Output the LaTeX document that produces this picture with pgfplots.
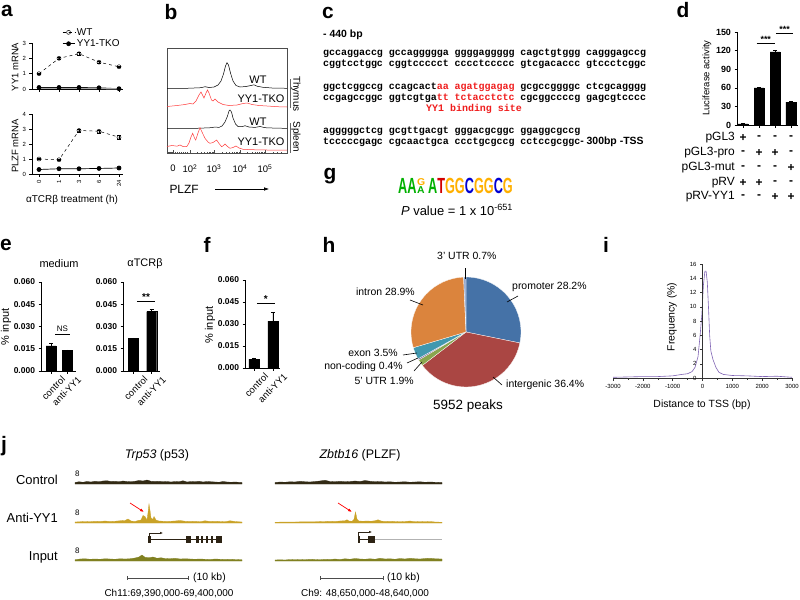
\documentclass[border=0pt]{standalone}
\usepackage{pgfplots}
\pgfplotsset{compat=1.18}
\usepackage{fontspec}
\setmainfont{Liberation Sans}
\newfontfamily\seqfont{Liberation Mono}
\usetikzlibrary{arrows.meta}
\newcommand{\fs}[1]{\fontsize{#1}{#1}\selectfont}
\definecolor{seqred}{RGB}{240,30,30}
\definecolor{histred}{RGB}{255,60,60}
\definecolor{cProm}{HTML}{4572A7}
\definecolor{cInter}{HTML}{AA4643}
\definecolor{cFive}{HTML}{89A54E}
\definecolor{cNC}{HTML}{71588F}
\definecolor{cExon}{HTML}{4198AF}
\definecolor{cIntron}{HTML}{DB843D}
\definecolor{cThree}{HTML}{93A9CF}
\definecolor{lgA}{RGB}{0,176,0}
\definecolor{lgT}{RGB}{210,0,0}
\definecolor{lgG}{RGB}{255,176,0}
\definecolor{lgC}{RGB}{0,0,210}
\definecolor{tssPurple}{RGB}{128,100,180}
\definecolor{trCtrl}{RGB}{50,42,20}
\definecolor{trAnti}{RGB}{201,162,39}
\definecolor{trInput}{RGB}{128,128,32}
\definecolor{gene}{RGB}{45,35,20}
\pgfplotsset{
  /pgf/number format/assume math mode=true,
  prism/.style={scale only axis, anchor=south west, axis x line*=bottom, axis y line*=left,
    tick align=outside, major tick length=2.5bp, tick style={black, line width=0.6pt},
    axis line style={line width=0.7pt}, clip=false},
  efax/.style={prism, ymin=0, ymax=0.06, ytick={0,0.015,0.03,0.045,0.06},
    scaled y ticks=false, yticklabel style={font=\bfseries\fs{8.5}, /pgf/number format/.cd, fixed, fixed zerofill, precision=3},
    xtick={0,1}, xticklabels={control,anti-YY1},
    xticklabel style={xshift=15bp, yshift=-2bp, rotate=45, anchor=east, font=\fs{9.5}},
    ybar, bar width=10bp},
}
\begin{document}
\begin{tikzpicture}
\useasboundingbox (0,0) rectangle (800bp,-600bp);
\fill[white] (0,0) rectangle (800bp,-600bp);

% ================= panel a =================
\begin{axis}[prism, at={(32bp,-89bp)}, width=91bp, height=46bp,
  xmin=-0.35, xmax=4.2, ymin=0, ymax=3, xtick={0,1,2,3,4}, xticklabels={},
  ytick={0,1,2,3}, yticklabel style={font=\fs{6}},
  legend style={at={(axis description cs:0.33,1.37)}, anchor=north west, draw=none, fill=none,
    font=\fs{10}, inner sep=0pt, row sep=-1bp, cells={anchor=west}},
  legend image code/.code={\draw[mark repeat=2,mark phase=2,#1] plot coordinates {(0bp,0bp) (6bp,0bp) (12bp,0bp)};}]
\addplot[black, dashed, line width=0.5pt, mark=o, mark size=2bp, mark options={solid, fill=white},
  error bars/.cd, y dir=both, y explicit, error bar style={solid, black}]
  coordinates {(0,1.0) +- (0,0.04) (1,2.0) +- (0,0.08) (2,2.3) +- (0,0.07) (3,1.75) +- (0,0.05) (4,1.45) +- (0,0.04)};
\addlegendentry{WT}
\addplot[black, solid, line width=0.7pt, mark=*, mark size=2bp]
  coordinates {(0,0.1) (1,0.1) (2,0.1) (3,0.08) (4,0.02)};
\addlegendentry{YY1-TKO}
\addplot[gray!70, line width=1.2pt, forget plot] coordinates {(0,0.04) (1,0.04) (2,0.04) (3,0.03) (4,0.01)};
\end{axis}

\begin{axis}[prism, at={(32bp,-174bp)}, width=91bp, height=60bp,
  xmin=-0.35, xmax=4.2, ymin=0, ymax=4, xtick={0,1,2,3,4}, xticklabels={0,1,3,6,24},
  xticklabel style={rotate=90, anchor=east, font=\fs{6}},
  ytick={0,1,2,3,4}, yticklabel style={font=\fs{6}}]
\addplot[black, dashed, line width=0.5pt, mark=o, mark size=2bp, mark options={solid, fill=white},
  error bars/.cd, y dir=both, y explicit, error bar style={solid, black}]
  coordinates {(0,1.0) +- (0,0.04) (1,0.95) +- (0,0.04) (2,2.9) +- (0,0.12) (3,2.85) +- (0,0.1) (4,2.45) +- (0,0.15)};
\addplot[black, solid, line width=0.7pt, mark=*, mark size=2bp]
  coordinates {(0,0.3) (1,0.35) (2,0.35) (3,0.37) (4,0.4)};
\end{axis}

% ================= panel b =================
\begin{axis}[scale only axis, anchor=south west, at={(167bp,-153bp)}, width=120bp, height=105bp,
  xmin=0, xmax=120, ymin=0, ymax=105, axis line style={line width=0.5pt, black!70},
  ytick=\empty, xtick={6,23,47,73,98},
  xticklabels={0,10\textsuperscript{2},10\textsuperscript{3},10\textsuperscript{4},10\textsuperscript{5}},
  xtick pos=bottom, tick align=inside, major tick length=3bp, minor tick length=1.5bp,
  tick style={black!70, line width=0.4pt},
  minor xtick={1,2,3,4,5,8,10,12,14,16,18,20,30.2,34.5,37.4,39.8,41.7,43.3,44.7,45.9,54.8,59.4,62.6,65.2,67.2,69,70.5,71.8,80.5,84.9,88,90.5,92.5,94.1,95.6,96.8,106,110,114},
  xticklabel style={font=\fs{9.5}, yshift=-8bp}, clip=false]
\addplot[black, line width=0.5pt] coordinates {(0,64.7)(20,64.7)(34,65.3)(38,66.3)(42,65.5)(47,66)(51,68)(54,72)(56.5,79)(58.5,87)(60,90.3)(61.5,88)(63.5,80)(66,72)(69,67.5)(73,66)(79,66.5)(84,67.5)(87,68.2)(90,66.8)(96,65.7)(105,65)(120,64.7)};
\addplot[histred, line width=0.5pt] coordinates {(0,46.5)(10,47.5)(18,48.5)(23,49.5)(26,49)(29,52)(32,58)(34,61)(36,57)(37,55)(39,60)(40.5,63)(42,60)(44.5,53)(46,52)(48,54)(51,51)(56,48.5)(62,47.5)(70,48)(76,49.5)(80,50)(85,48.5)(92,47.5)(100,47)(110,46.3)(120,46)};
\addplot[black, line width=0.5pt] coordinates {(0,24.7)(30,24.7)(44,25.3)(48,26)(52,25.6)(55,27)(58,31)(60.5,37)(62,42)(63,43)(64.5,41)(66,35)(68.5,29)(71,26.5)(75,26.3)(78,27.3)(82,26)(88,25.6)(93,26.5)(98,25.3)(110,24.8)(120,24.7)};
\addplot[histred, line width=0.5pt] coordinates {(0,6.5)(5,7.5)(10,6.8)(13,8)(16,6.5)(19.7,6.3)(22,10)(24,16)(25.7,19.7)(27.5,15)(28.7,13)(31,20)(33,25.3)(35,21)(38,14.7)(41,11)(43,9.7)(46,10.5)(49.7,13)(52,9.5)(54.7,6.3)(56.5,7.5)(58,9)(60.5,6.5)(63,4.7)(66,5.5)(69,7)(72,5)(76,3.7)(85,3.3)(100,3)(120,3)};
\end{axis}

% ================= panel d =================
\begin{axis}[prism, at={(737bp,-125bp)}, width=61bp, height=93bp,
  xmin=-0.38, xmax=3.44, ymin=0, ymax=150, ytick={0,30,60,90,120,150},
  xtick={0,1,2,3}, xticklabels={}, yticklabel style={font=\bfseries\fs{9}},
  ybar, bar width=10bp]
\addplot[fill=black, draw=black, error bars/.cd, y dir=both, y explicit, error bar style={black, line width=0.6pt}]
  coordinates {(0,2) +- (0,0.5) (1,60) +- (0,0.8) (2,118) +- (0,2.5) (3,37) +- (0,0.8)};
\draw[line width=0.7pt] (axis cs:0.85,132) -- (axis cs:2.0,132);
\node[font=\bfseries\fs{9}, inner sep=0pt, anchor=south] at (axis cs:1.42,132.5) {***};
\draw[line width=0.7pt] (axis cs:2.06,148) -- (axis cs:3.13,148);
\node[font=\bfseries\fs{9}, inner sep=0pt, anchor=south] at (axis cs:2.6,148.5) {***};
\end{axis}

% ================= panel e =================
\begin{axis}[efax, at={(41bp,-371bp)}, width=35bp, height=89bp, xmin=-0.625, xmax=1.5625]
\addplot[fill=black, draw=black, error bars/.cd, y dir=both, y explicit, error bar style={black, line width=0.6pt}]
  coordinates {(0,0.017) +- (0,0.002) (1,0.014) +- (0,0.0003)};
\draw[line width=0.7pt] (axis cs:0.25,0.025) -- (axis cs:1.19,0.025);
\node[font=\fs{8}, inner sep=0pt, anchor=south] at (axis cs:0.72,0.0262) {NS};
\end{axis}

\begin{axis}[efax, at={(123bp,-371bp)}, width=37bp, height=89bp, xmin=-0.56, xmax=1.45]
\addplot[fill=black, draw=black, error bars/.cd, y dir=both, y explicit, error bar style={black, line width=0.6pt}]
  coordinates {(0,0.022) +- (0,0.0003) (1,0.040) +- (0,0.0015)};
\draw[line width=0.7pt] (axis cs:0.2,0.047) -- (axis cs:1.18,0.047);
\node[font=\bfseries\fs{10}, inner sep=0pt, anchor=south] at (axis cs:0.69,0.0475) {**};
\end{axis}

% ================= panel f =================
\begin{axis}[efax, at={(245bp,-368bp)}, width=35bp, height=88bp, xmin=-0.47, xmax=1.37]
\addplot[fill=black, draw=black, error bars/.cd, y dir=both, y explicit, error bar style={black, line width=0.6pt}]
  coordinates {(0,0.006) +- (0,0.001) (1,0.032) +- (0,0.006)};
\draw[line width=0.7pt] (axis cs:0.16,0.0443) -- (axis cs:1.1,0.0443);
\node[font=\bfseries\fs{10}, inner sep=0pt, anchor=south] at (axis cs:0.63,0.0448) {*};
\end{axis}

% ================= panel i =================
\begin{axis}[scale only axis, anchor=south west, at={(613bp,-378bp)}, width=179bp, height=114bp,
  xmin=-3000, xmax=3000, ymin=0, ymax=16, axis x line*=bottom, axis y line=none,
  axis line style={-, line width=0.5pt, black!80}, tick style={black!80, line width=0.4pt},
  tick align=outside, major tick length=2.5bp, minor tick length=1.5bp,
  xtick={-3000,-2000,-1000,0,1000,2000,3000}, xticklabels={-3000,-2000,-1000,0,1000,2000,3000},
  minor xtick={-2500,-1500,-500,500,1500,2500},
  xticklabel style={font=\fs{6}}, clip=false]
\addplot[tssPurple, line width=0.6pt] coordinates {(-3000,0.1)(-2500,0.15)(-2000,0.2)(-1500,0.2)(-1000,0.3)(-700,0.5)(-500,0.6)(-350,0.9)(-250,1.5)(-150,3)(-80,6)(-20,9)(30,13)(80,15)(120,15)(160,13.5)(200,10)(240,6)(280,3.8)(350,2.6)(450,1.5)(550,0.8)(700,0.5)(1000,0.35)(1500,0.3)(2000,0.2)(2500,0.25)(3000,0.1)};
\end{axis}
\begin{axis}[scale only axis, anchor=south west, at={(702.5bp,-378bp)}, width=89.5bp, height=114bp,
  xmin=0, xmax=3000, ymin=0, ymax=16, axis x line=none, axis y line*=left,
  axis line style={-, line width=0.5pt, black!80}, tick style={black!80, line width=0.4pt},
  tick align=outside, major tick length=2.5bp,
  ytick={0,2,4,6,8,10,12,14,16}, yticklabels={0,2,4,6,8,10,12,14,16},
  yticklabel style={font=\fs{6}}, clip=false]
\end{axis}

% ================= panel j tracks =================
\pgfplotsset{track/.style={scale only axis, anchor=south west, hide axis, width=167bp, height=20bp,
  xmin=0, xmax=167, ymin=0, ymax=8, clip=false}}
\begin{axis}[track, at={(75bp,-484bp)}]
\addplot[fill=trCtrl, draw=trCtrl, line width=0.3pt] coordinates {(0,0.6)(4,0.9)(8,0.7)(12,1.0)(16,0.8)(20,1.1)(24,0.9)(28,1.2)(32,1.3)(36,1.0)(40,1.1)(44,0.9)(48,1.2)(52,1.0)(56,0.9)(60,1.1)(64,1.4)(68,1.2)(72,1.6)(76,1.1)(80,1.0)(84,1.1)(88,0.9)(92,1.0)(96,0.8)(100,1.0)(104,0.9)(108,1.3)(112,0.8)(116,1.0)(120,0.9)(124,1.1)(128,0.8)(132,1.0)(136,0.9)(140,0.8)(144,0.7)(148,1.0)(152,0.8)(156,0.7)(160,0.8)(167,0.6)} \closedcycle;
\end{axis}
\begin{axis}[track, at={(75bp,-523bp)}]
\addplot[fill=trAnti, draw=trAnti, line width=0.3pt] coordinates {(0,0.4)(5,0.5)(10,0.6)(15,0.5)(20,0.7)(25,0.6)(30,0.8)(35,0.6)(40,0.7)(45,0.9)(50,1.0)(53,1.6)(56,0.8)(60,0.6)(63,1.0)(66,1.2)(68,3.0)(70,2.6)(72,1.2)(73,4.0)(74,7.6)(75,5.0)(76,2.0)(78,1.5)(79,2.6)(81,1.2)(84,0.8)(88,0.7)(92,0.6)(96,0.7)(100,0.8)(105,1.0)(110,0.7)(115,0.6)(120,0.7)(125,0.5)(130,0.9)(135,0.6)(140,0.7)(145,0.6)(150,0.5)(155,0.9)(160,0.6)(167,0.4)} \closedcycle;
\end{axis}
\begin{axis}[track, at={(75bp,-561bp)}]
\addplot[fill=trInput, draw=trInput, line width=0.3pt] coordinates {(0,0.5)(5,0.8)(10,0.9)(15,0.7)(20,0.8)(25,0.7)(30,0.9)(35,0.8)(40,0.7)(45,0.9)(50,0.8)(55,0.9)(60,1.2)(64,1.6)(67,2.4)(70,1.5)(74,1.3)(78,1.6)(82,1.1)(86,1.3)(90,1.0)(95,0.9)(100,1.1)(105,0.8)(110,0.9)(115,0.8)(120,0.7)(125,0.8)(130,0.7)(135,0.6)(140,0.8)(145,0.7)(150,0.6)(155,0.7)(160,0.6)(167,0.5)} \closedcycle;
\end{axis}
\begin{axis}[track, at={(275bp,-484bp)}]
\addplot[fill=trCtrl, draw=trCtrl, line width=0.3pt] coordinates {(0,0.6)(5,0.8)(10,0.7)(15,0.9)(20,0.8)(25,1.1)(30,0.9)(35,0.8)(40,1.0)(45,1.2)(50,1.5)(55,1.0)(60,0.9)(65,1.1)(70,0.9)(75,1.0)(80,1.2)(85,1.0)(90,1.4)(95,1.1)(100,0.9)(105,1.0)(110,0.8)(115,0.9)(120,0.7)(125,0.8)(130,0.9)(135,0.7)(140,0.8)(145,0.9)(150,0.7)(155,0.8)(160,0.7)(167,0.6)} \closedcycle;
\end{axis}
\begin{axis}[track, at={(275bp,-523bp)}]
\addplot[fill=trAnti, draw=trAnti, line width=0.3pt] coordinates {(0,0.3)(10,0.4)(20,0.4)(30,0.5)(40,0.5)(50,0.6)(55,0.7)(60,0.6)(65,0.8)(70,0.9)(72,1.3)(74,0.8)(77,0.7)(79,1.5)(80.5,4.4)(82,1.6)(84,0.8)(88,0.7)(92,0.8)(96,0.7)(100,0.9)(103,1.3)(106,0.8)(110,0.6)(115,0.7)(120,0.6)(125,0.5)(130,0.6)(135,0.8)(140,0.5)(145,0.6)(150,0.5)(155,0.6)(160,0.4)(167,0.3)} \closedcycle;
\end{axis}
\begin{axis}[track, at={(275bp,-561bp)}]
\addplot[fill=trInput, draw=trInput, line width=0.3pt] coordinates {(0,0.4)(5,0.5)(10,0.4)(15,0.6)(20,0.5)(25,0.6)(30,0.5)(35,0.7)(40,0.6)(45,0.5)(50,0.7)(55,0.6)(60,0.8)(65,0.6)(70,0.9)(75,0.7)(80,1.0)(85,0.8)(90,0.7)(95,0.9)(100,0.7)(105,1.1)(110,0.8)(115,0.9)(120,0.7)(125,1.0)(130,0.8)(135,1.1)(140,0.9)(145,0.8)(150,1.0)(155,1.1)(160,0.9)(167,0.8)} \closedcycle;
\end{axis}

% ================= panel h pie =================
\begin{scope}[shift={(466bp,-332bp)}]
\def\cum{0}
\foreach \p/\c in {28.2/cProm, 36.4/cInter, 1.9/cFive, 0.4/cNC, 3.5/cExon, 28.9/cIntron, 0.7/cThree}{
  \pgfmathsetmacro\aa{90-3.6*\cum}
  \pgfmathsetmacro\bb{90-3.6*(\cum+\p)}
  \fill[\c, draw=white, line width=0.3pt] (0,0) -- (\aa:55bp) arc[start angle=\aa, end angle=\bb, radius=55bp] -- cycle;
  \pgfmathsetmacro\nn{\cum+\p}
  \xdef\cum{\nn}
}
\end{scope}

% ================= texts and annotations (pixel coordinates) =================
\begin{scope}[x=1bp, y=-1bp]
\tikzset{lab/.style={font=\bfseries\fs{21}, inner sep=0pt}}
\node[lab] at (7,11) {a};
\node[lab] at (171,12) {b};
\node[lab] at (328,13) {c};
\node[lab] at (683,10) {d};
\node[lab] at (6,245) {e};
\node[lab] at (207,245) {f};
\node[lab] at (330,176) {g};
\node[lab] at (329,245) {h};
\node[lab] at (606,245) {i};
\node[lab] at (4,446) {j};

% panel a labels
\node[rotate=90, font=\fs{9.5}] at (15,67) {YY1 mRNA};
\node[rotate=90, font=\fs{9.5}] at (15,146) {PLZF mRNA};
\node[font=\fs{10}] at (72,200) {αTCRβ treatment (h)};

% panel b labels
\node[font=\fs{11}, anchor=east] at (270,80) {WT};
\node[font=\fs{11}, anchor=east] at (288,99) {YY1-TKO};
\node[font=\fs{11}, anchor=east] at (270,122) {WT};
\node[font=\fs{11}, anchor=east] at (288,142) {YY1-TKO};
\draw[black!60, line width=0.5pt] (290,79) -- (290,108);
\draw[black!60, line width=0.5pt] (290,123) -- (290,153);
\node[rotate=-90, font=\fs{10}] at (296,94) {Thymus};
\node[rotate=-90, font=\fs{10}] at (296,137) {Spleen};
\node[font=\fs{12}, anchor=west] at (166,189) {PLZF};
\draw[-{Latex[length=5bp,width=3.5bp]}, line width=0.5pt] (215,189) -- (269,189);

% panel c sequences
\tikzset{seq/.style={anchor=west, inner sep=0pt, font=\seqfont\bfseries\fs{10}}}
\node[anchor=west, inner sep=0pt, font=\bfseries\fs{10.5}] at (323,35) {- 440 bp};
\node[seq] at (323,53) {gccaggaccg gccaggggga ggggaggggg cagctgtggg cagggagccg};
\node[seq] at (323,64) {cggtcctggc cggtccccct cccctccccc gtcgacaccc gtccctcggc};
\node[seq] at (323,87) {ggctcggccg ccagcact\textcolor{seqred}{aa agatggagag} gcgccggggc ctcgcagggg};
\node[seq] at (323,98) {ccgagccggc ggtcgtga\textcolor{seqred}{tt tctacctctc} cgcggccccg gagcgtcccc};
\node[seq, text=seqred] at (426,109) {YY1 binding site};
\node[seq] at (323,131) {agggggctcg gcgttgacgt gggacgcggc ggaggcgccg};
\node[seq] at (323,142) {tcccccgagc cgcaactgca ccctgcgccg cctccgcggc\textrm{\bfseries\fs{10.5}- 300bp -TSS}};

% panel g logo
\node[anchor=south west, inner sep=0pt, xscale=0.58, font=\bfseries\fs{22}] at (398,193.5) {\textcolor{lgA}{AA}};
\node[anchor=south west, inner sep=0pt, xscale=1.05, font=\bfseries\fs{10}] at (417,185.5) {\textcolor{lgG}{G}};
\node[anchor=south west, inner sep=0pt, xscale=1.05, font=\bfseries\fs{10}] at (417,193.5) {\textcolor{lgA}{A}};
\node[anchor=south west, inner sep=0pt, xscale=0.58, font=\bfseries\fs{22}] at (428,193.5) {\textcolor{lgA}{A}\textcolor{lgT}{T}\textcolor{lgG}{GG}\textcolor{lgC}{C}\textcolor{lgG}{GG}\textcolor{lgC}{C}\textcolor{lgG}{G}};
\node[font=\fs{13}] at (457,210) {\textit{P} value = 1 x 10\textsuperscript{-651}};

% panel d labels
\node[rotate=90, font=\fs{9.5}] at (707,78) {Luciferase activity};
\tikzset{tl/.style={anchor=east, font=\fs{12}, inner sep=0pt}, pm/.style={font=\bfseries\fs{12}, inner sep=0pt}}
\node[tl] at (735,138) {pGL3};
\node[tl] at (735,153) {pGL3-pro};
\node[tl] at (735,168) {pGL3-mut};
\node[tl] at (735,183) {pRV};
\node[tl] at (735,197) {pRV-YY1};
\foreach \r/\yy in {{+,-,-,-}/138, {-,+,+,-}/153, {-,-,-,+}/168, {+,+,-,-}/183, {-,-,+,+}/197}{
  \foreach \s [count=\k from 0] in \r {
    \pgfmathsetmacro\xx{743+16*\k}
    \node[pm] at (\xx,\yy) {\s};
  }
}

% panel e/f labels
\node[font=\fs{11}] at (59,264) {medium};
\node[font=\fs{11}] at (145,264) {αTCRβ};
\node[rotate=90, font=\fs{11}] at (6,327) {\% input};
\node[rotate=90, font=\fs{11}] at (210,325) {\% input};

% panel h labels
\tikzset{pl/.style={font=\fs{10.5}, inner sep=0pt}}
\node[pl, anchor=west] at (437,256) {3' UTR 0.7\%};
\draw[line width=0.6pt] (465,268) -- (465,279);
\node[pl, anchor=west] at (512,287) {promoter 28.2\%};
\draw[line width=0.6pt] (507,302) -- (518,296);
\node[pl, anchor=west] at (506,385) {intergenic 36.4\%};
\draw[line width=0.6pt] (493,377) -- (502,385);
\node[pl, anchor=east] at (415,292) {intron 28.9\%};
\draw[line width=0.6pt] (410,300) -- (423,305);
\node[pl, anchor=east] at (398,353) {exon 3.5\%};
\draw[line width=0.6pt] (403,355) -- (417,353);
\node[pl, anchor=east] at (403,367) {non-coding 0.4\%};
\draw[line width=0.6pt] (407,363) -- (418,358);
\node[pl, anchor=east] at (414,381) {5' UTR 1.9\%};
\draw[line width=0.6pt] (414,371) -- (422,362);
\node[font=\fs{13.5}] at (468,406) {5952 peaks};

% panel i labels
\node[rotate=90, font=\fs{10.5}] at (672,317) {Frequency (\%)};
\node[font=\fs{10.5}] at (702,405) {Distance to TSS (bp)};

% panel j labels
\node[font=\fs{12.5}] at (157,455) {\textit{Trp53} (p53)};
\node[font=\fs{12.5}] at (360,455) {\textit{Zbtb16} (PLZF)};
\tikzset{rl/.style={anchor=east, font=\fs{13}, inner sep=0pt}, eight/.style={font=\fs{8}, inner sep=0pt, anchor=west}}
\node[rl] at (58,480) {Control};
\node[rl] at (58,518) {Anti-YY1};
\node[rl] at (58,557) {Input};
\node[eight] at (75,474) {8};
\node[eight] at (75,513) {8};
\node[eight] at (75,551) {8};
% red arrows
\draw[-{Latex[length=4bp,width=3bp]}, red, line width=0.7pt] (130,503) -- (144,512);
\draw[-{Latex[length=4bp,width=3bp]}, red, line width=0.7pt] (338,503) -- (352,512);
% gene models
\draw[gene, line width=0.5pt] (149,539.5) -- (222,539.5);
\draw[gene, line width=0.5pt, -{Latex[length=3bp,width=2.5bp]}] (149,541) -- (149,533) -- (163,533);
\foreach \a/\b in {148/151, 186/191, 196/199, 201/203, 206/208, 211/213, 216/222}{
  \fill[gene] (\a,536) rectangle (\b,543);
}
\draw[black!30, line width=0.6pt] (375,539.5) -- (442,539.5);
\draw[gene, line width=0.5pt] (358,539.5) -- (368,539.5);
\draw[gene, line width=0.5pt, -{Latex[length=3bp,width=2.5bp]}] (358,541) -- (358,532) -- (372,532);
\fill[gene] (357.5,536) rectangle (359.5,543);
\fill[gene] (368,536) rectangle (375,543);
% scale bars
\draw[black!70, line width=0.5pt] (127,578) -- (188,578);
\draw[black!70, line width=0.5pt] (127,576) -- (127,580);
\draw[black!70, line width=0.5pt] (188,576) -- (188,580);
\node[font=\fs{10.5}, anchor=west, inner sep=0pt] at (193,578) {(10 kb)};
\draw[black!70, line width=0.5pt] (320,578) -- (383,578);
\draw[black!70, line width=0.5pt] (320,576) -- (320,580);
\draw[black!70, line width=0.5pt] (383,576) -- (383,580);
\node[font=\fs{10.5}, anchor=west, inner sep=0pt] at (387,578) {(10 kb)};
\node[font=\fs{10}] at (169,594) {Ch11:69,390,000-69,400,000};
\node[font=\fs{10}] at (365,594) {Ch9: 48,650,000-48,640,000};
\end{scope}
\end{tikzpicture}
\end{document}
